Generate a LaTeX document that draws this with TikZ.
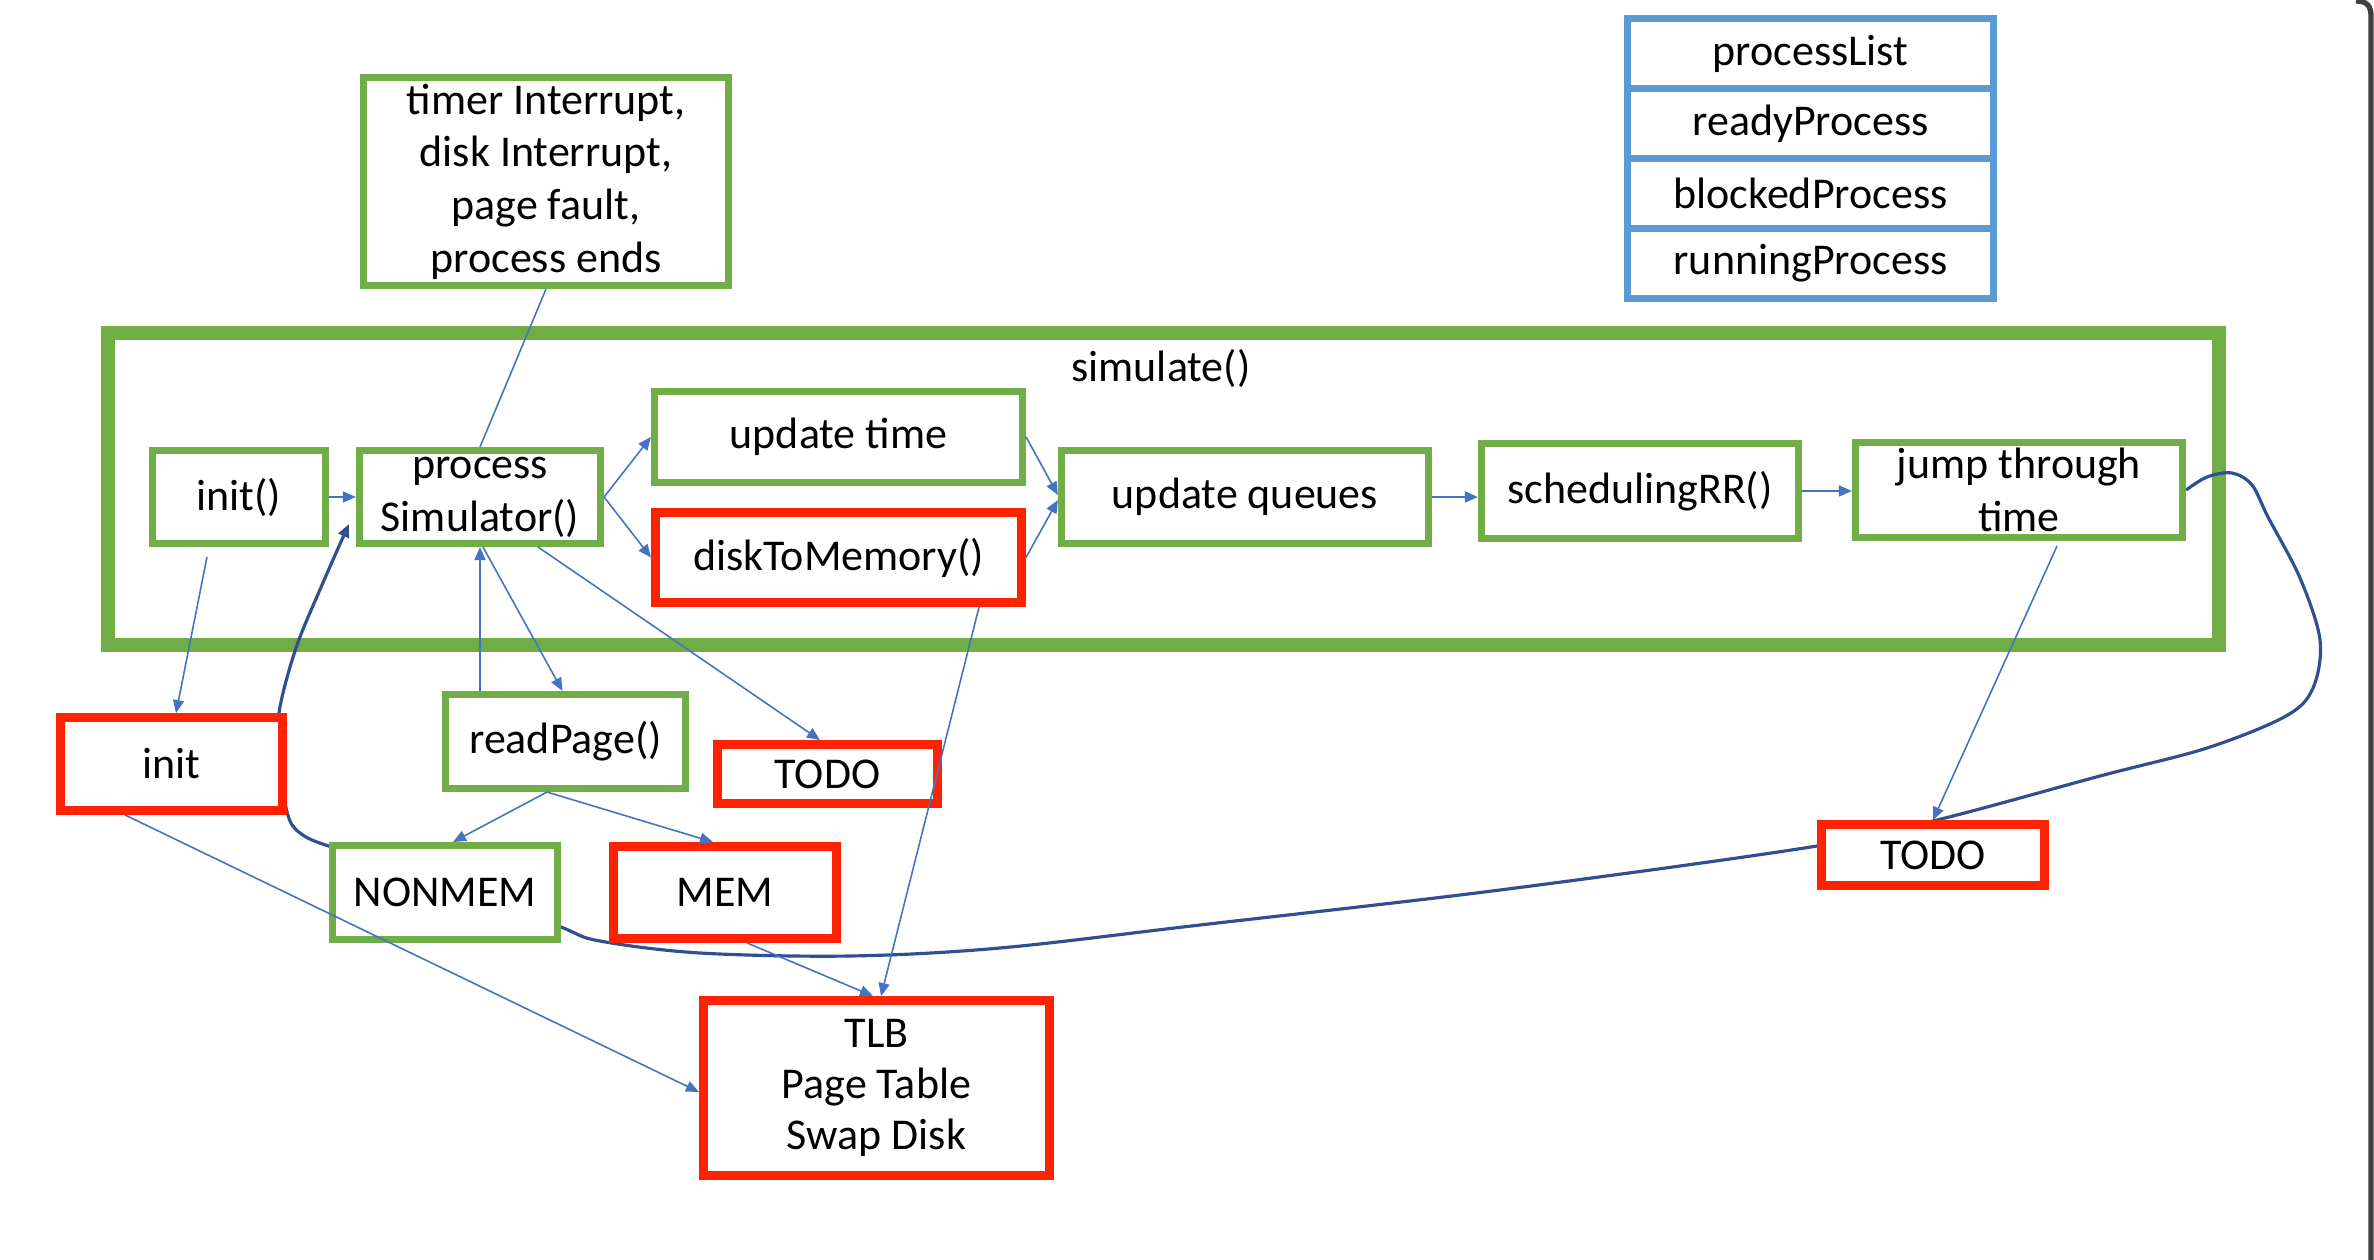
\documentclass[tikz,border=0pt]{standalone}
\usepackage{fontspec}
\setmainfont{Carlito}
\usetikzlibrary{arrows.meta}
\definecolor{ogreen}{HTML}{70AD47}
\definecolor{ored}{HTML}{FF2200}
\definecolor{oblue}{HTML}{5B9BD5}
\definecolor{arrowblue}{HTML}{4472C4}
\definecolor{curveblue}{HTML}{2F4F91}
\pgfdeclarelayer{simlayer}
\pgfdeclarelayer{curvelayer}
\pgfsetlayers{simlayer,curvelayer,main}
\begin{document}
\begin{tikzpicture}[x=0.01cm,y=-0.01cm,
  every node/.style={font=\fontsize{12.5}{15}\selectfont, inner sep=0pt, align=center},
  gbox/.style 2 args={draw=ogreen, line width=2pt, fill=white, minimum width=#1, minimum height=#2},
  rbox/.style 2 args={draw=ored, line width=2.5pt, fill=white, minimum width=#1, minimum height=#2},
  bbox/.style={draw=oblue, line width=2pt, fill=white, minimum width=3.66cm, minimum height=0.70cm},
  conn/.style={draw=arrowblue, line width=0.45pt, -{Triangle[length=0.13cm,width=0.11cm]}},
  plainline/.style={draw=arrowblue, line width=0.45pt},
  loopcurve/.style={draw=curveblue, line width=0.9pt, -{Triangle[length=0.13cm,width=0.11cm,fill=arrowblue]}}
]
\begin{pgfonlayer}{simlayer}
  \fill[white] (0,0) rectangle (2374,1260);
  \node[draw=ogreen, line width=4pt, minimum width=21.09cm, minimum height=3.12cm] (sim) at (1163.5,489) {};
\end{pgfonlayer}
\useasboundingbox (0,0) rectangle (2374,1260);

\node (simlabel) at (1161,368) {simulate()};

% top boxes
\node[gbox={3.65cm}{2.08cm}] (timer) at (546,181.5) {timer Interrupt,\\disk Interrupt,\\page fault,\\process ends};
\node[bbox] (plist) at (1810.5,53.5) {processList};
\node[bbox] (ready) at (1810.5,123.5) {readyProcess};
\node[bbox] (blocked) at (1810.5,193.5) {blockedProcess};
\node[bbox] (running) at (1810.5,263.5) {runningProcess};

% inside simulate
\node[gbox={1.73cm}{0.93cm}] (init1) at (239,497) {init()};
\node[gbox={2.41cm}{0.93cm}] (procSim) at (480,497) {process\\Simulator()};
\node[gbox={3.68cm}{0.91cm}] (ut) at (838.5,437) {update time};
\node[rbox={3.66cm}{0.90cm}] (dtm) at (838.5,557.5) {diskToMemory()};
\node[gbox={3.67cm}{0.93cm}] (uq) at (1245,497) {update queues};
\node[gbox={3.17cm}{0.95cm}] (srr) at (1640,491) {schedulingRR()};
\node[gbox={3.27cm}{0.95cm}] (jump) at (2019,490) {jump through\\time};

% lower boxes
\node[rbox={2.22cm}{0.93cm}] (init2) at (171.5,764) {init};
\node[gbox={2.40cm}{0.94cm}] (rp) at (565.5,741.5) {readPage()};
\node[rbox={2.20cm}{0.59cm}] (todo1) at (827.5,774) {TODO};
\node[gbox={2.25cm}{0.94cm}] (nonmem) at (445,892.5) {NONMEM};
\node[rbox={2.23cm}{0.92cm}] (mem) at (725,892.5) {MEM};
\node[rbox={3.46cm}{1.75cm}, font=\fontsize{12.5}{14.5}\selectfont] (tlb) at (876.5,1088) {TLB\\Page Table\\Swap Disk};
\node[rbox={2.23cm}{0.61cm}] (todo2) at (1933,855) {TODO};

% long hand-drawn loop curve (behind the boxes)
\begin{pgfonlayer}{curvelayer}
\draw[loopcurve] plot[smooth, tension=0.55] coordinates {
  (jump.east) (2207,477) (2232,473) (2252,485) (2268,517) (2300,578) (2320,640)
  (2313,688) (2286,716) (2207,748) (2100,776) (1945,818) (1817,846)
  (1500,890) (1200,925) (1000,948) (850,956) (700,953) (600,941) (561,927)
  (450,880) (335,848) (300,833) (287,812) (280,760) (279,713) (296,648)
  (322,585) ([xshift=-0.07cm,yshift=-0.27cm]procSim.west)};
\end{pgfonlayer}

% thin connectors
\draw[plainline] (timer.south) -- (procSim.north);
\draw[conn] (init1.east) -- (procSim.west);
\draw[conn] (procSim.east) -- (ut.west);
\draw[conn] (procSim.east) -- (dtm.west);
\draw[conn] (ut.east) -- ([yshift=0.02cm]uq.west);
\draw[conn] (dtm.east) -- ([yshift=-0.03cm]uq.west);
\draw[conn] (uq.east) -- (uq.east -| srr.west);
\draw[conn] (srr.east) -- (srr.east -| jump.west);
\draw[conn] ([xshift=0.38cm,yshift=-0.05cm]jump.south) -- (todo2.north);
\draw[conn] ([xshift=-0.32cm,yshift=-0.1cm]init1.south) -- ([xshift=0.045cm]init2.north);
\draw[conn] ([xshift=0.03cm]procSim.south) -- ([xshift=-0.03cm]rp.north);
\draw[conn] (rp.north -| procSim.south) -- (procSim.south);
\draw[conn] ([xshift=0.58cm]procSim.south) -- ([xshift=-0.075cm]todo1.north);
\draw[conn] ([xshift=-0.185cm]rp.south) -- ([xshift=0.08cm]nonmem.north);
\draw[conn] ([xshift=-0.185cm]rp.south) -- ([xshift=-0.12cm]mem.north);
\draw[conn] ([xshift=-0.465cm]init2.south) -- ([yshift=-0.04cm]tlb.west);
\draw[conn] ([xshift=0.22cm]mem.south) -- ([xshift=-0.035cm]tlb.north);
\draw[conn] ([xshift=1.405cm]dtm.south) -- ([xshift=0.045cm]tlb.north);

% window edge of the screenshot
\draw[black!75, line width=1.5pt] (2356,1) .. controls (2367,1) and (2371,6) .. (2371,16) -- (2371,1260);
\end{tikzpicture}
\end{document}
